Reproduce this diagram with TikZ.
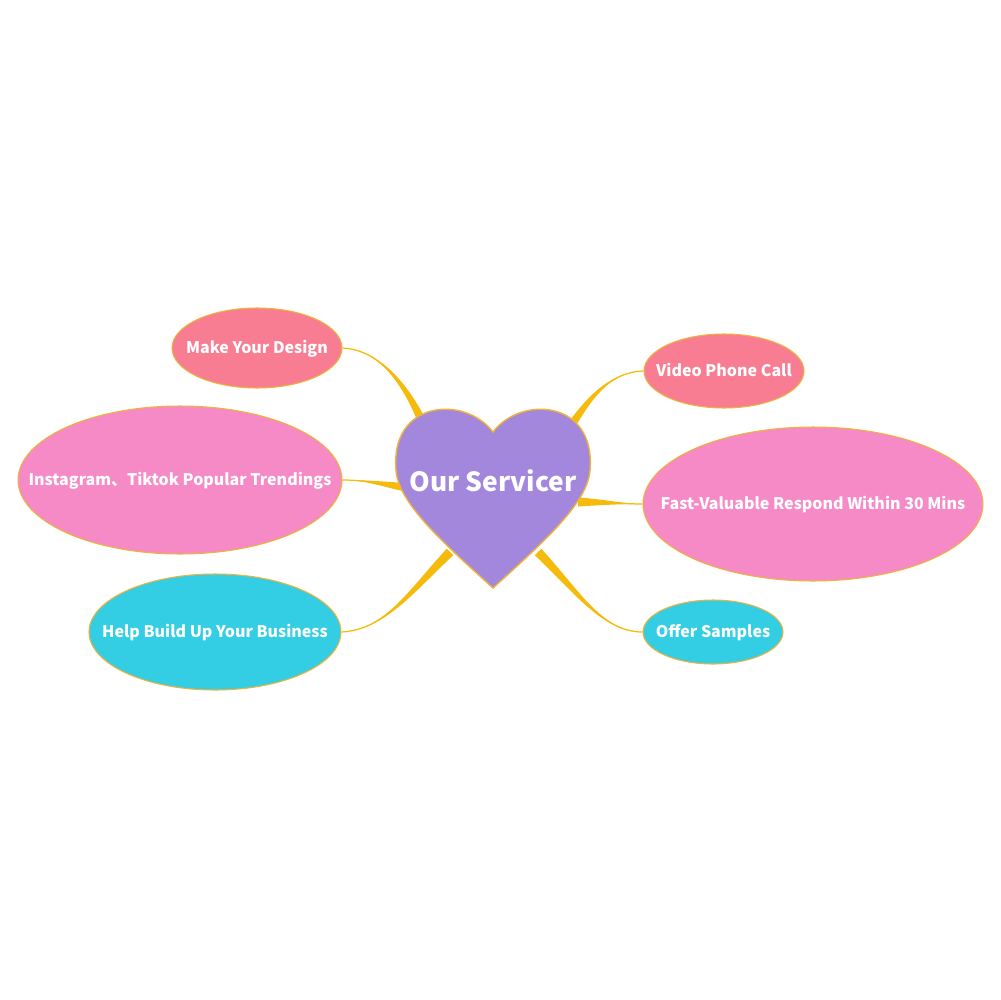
\documentclass[tikz,border=0pt]{standalone}
\usepackage{fontspec}
\setmainfont{Noto Sans CJK SC}
\usetikzlibrary{shapes.geometric, calc}
\definecolor{heartfill}{HTML}{A287DD}
\definecolor{leafred}{HTML}{F87D92}
\definecolor{leafpink}{HTML}{F58AC7}
\definecolor{leafcyan}{HTML}{33CEE4}
\definecolor{rimcol}{HTML}{EFB23A}
\definecolor{branchcol}{HTML}{F6BA0A}

% tapered branch: leaf point, control 1, control 2, heart point
\newcommand{\branch}[4]{%
  \fill[branchcol] (#1) .. controls (#2) and ($(#3)!1.5pt!-90:(#4)$) .. ($(#4)!2.6pt!90:(#3)$)
    -- ($(#4)!2.6pt!-90:(#3)$) .. controls ($(#3)!1.5pt!90:(#4)$) and (#2) .. (#1) -- cycle;
  \draw[branchcol, line width=0.7pt] (#1) .. controls (#2) and (#3) .. (#4);
}
\newcommand{\leaftext}[1]{\makebox[0pt]{\raisebox{-3.3pt}[0pt][0pt]{#1}}}

\begin{document}
\begin{tikzpicture}[x=0.02cm, y=-0.02cm,
    leaf/.style={ellipse, draw=rimcol, line width=0.6pt, inner sep=0pt,
      text=white, font=\bfseries\fontsize{9.1}{11}\selectfont}]
  \useasboundingbox (0,0) rectangle (1000,1000);

  % leaves
  \node[leaf, fill=leafred, minimum width=3.4cm, minimum height=1.6cm] (design) at (257,348) {\leaftext{Make Your Design}};
  \node[leaf, fill=leafpink, minimum width=6.48cm, minimum height=2.96cm] (trend) at (180,480) {\leaftext{Instagram、Tiktok Popular Trendings}};
  \node[leaf, fill=leafcyan, minimum width=5.04cm, minimum height=2.32cm] (business) at (215,632) {\leaftext{Help Build Up Your Business}};
  \node[leaf, fill=leafred, minimum width=3.2cm, minimum height=1.48cm] (video) at (724,371) {\leaftext{Video Phone Call}};
  \node[leaf, fill=leafpink, minimum width=6.8cm, minimum height=3.08cm] (respond) at (813,504) {\leaftext{Fast-Valuable Respond Within 30 Mins}};
  \node[leaf, fill=leafcyan, minimum width=2.8cm, minimum height=1.28cm] (samples) at (713,632) {\leaftext{Offer Samples}};

  % heart rim points
  \coordinate (h1) at (426,430);
  \coordinate (h2) at (410,488);
  \coordinate (h3) at (450,552);
  \coordinate (h4) at (566,434);
  \coordinate (h5) at (578,502);
  \coordinate (h6) at (538,552);

  % branches
  \branch{design.east}{382,350}{408,388}{h1}
  \branch{trend.east}{365,480}{382,484}{h2}
  \branch{business.east}{385,630}{412,590}{h3}
  \branch{video.west}{610,372}{588,398}{h4}
  \branch{respond.west}{625,504}{605,502}{h5}
  \branch{samples.west}{602,632}{576,590}{h6}

  % heart
  \draw[fill=heartfill, draw=rimcol, line width=0.8pt]
    (493,432) .. controls (465,395) and (390,400) .. (396,470)
    .. controls (398,502) and (440,540) .. (493,588)
    .. controls (546,540) and (588,502) .. (590,470)
    .. controls (596,400) and (521,395) .. (493,432) -- cycle;
  \node[text=white, font=\bfseries\fontsize{15}{18}\selectfont] (core) at (493,481) {Our Servicer};
\end{tikzpicture}
\end{document}
